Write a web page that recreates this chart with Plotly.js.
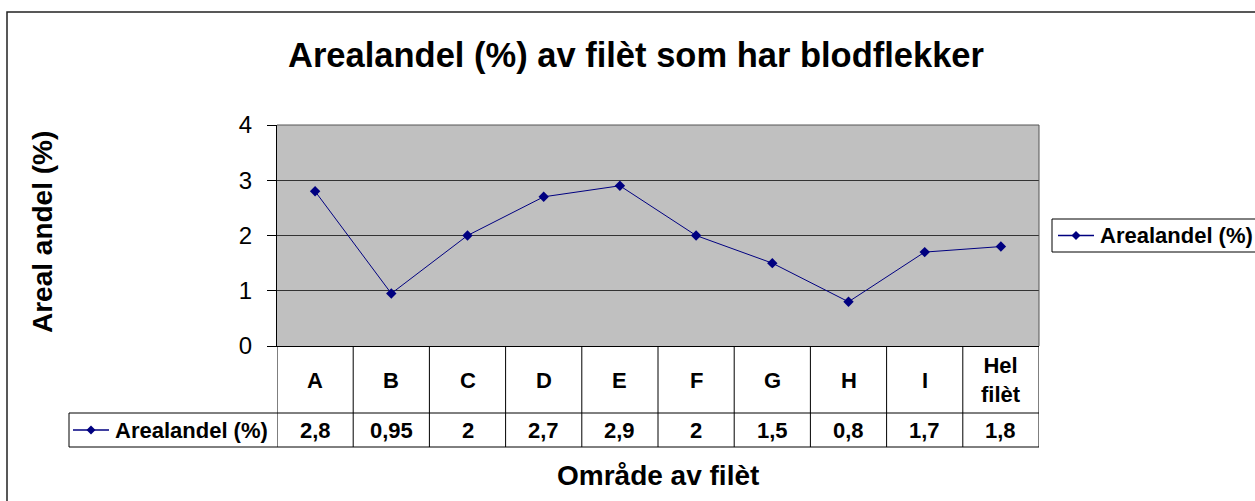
<!DOCTYPE html>
<html>
<head>
<meta charset="utf-8">
<script src="https://cdn.plot.ly/plotly-3.0.1.min.js"></script>
<style>html,body{margin:0;padding:0;background:#fff;}#chart{width:1255px;height:501px;}</style>
</head>
<body>
<div id="chart"></div>
<script>
const categories = ["A", "B", "C", "D", "E", "F", "G", "H", "I", "Hel filèt"];
const headerLabels = ["A", "B", "C", "D", "E", "F", "G", "H", "I", "Hel<br>filèt"];
const values = [2.8, 0.95, 2, 2.7, 2.9, 2, 1.5, 0.8, 1.7, 1.8];
const valueLabels = ["2,8", "0,95", "2", "2,7", "2,9", "2", "1,5", "0,8", "1,7", "1,8"];
const seriesName = "Arealandel (%)";
const yTicks = [0, 1, 2, 3, 4];

const W = 1255, H = 501;
const L = 277, R = 1039, T = 125, B = 346;
const px = x => (x - L) / (R - L);
const py = y => (B - y) / (B - T);
const FONT = "Liberation Sans, Arial, Helvetica, sans-serif";
const NAVY = "#000080";

const trace = {
  x: categories,
  y: values,
  type: "scatter",
  mode: "lines+markers",
  name: seriesName,
  line: {color: NAVY, width: 1},
  marker: {symbol: "diamond", size: 8, color: NAVY},
  showlegend: false,
  hoverinfo: "x+y"
};

const shapes = [];
const annotations = [];

// outer chart border
shapes.push({type: "rect", xref: "paper", yref: "paper", x0: px(7), x1: px(1300), y0: py(12), y1: py(540),
  line: {color: "#222", width: 1.5}, fillcolor: "rgba(0,0,0,0)", layer: "below"});

// data table grid
const n = categories.length;
for (let i = 0; i <= n; i++) {
  shapes.push({type: "line", xref: "x", yref: "paper", x0: i - 0.5, x1: i - 0.5, y0: py(346), y1: py(447),
    line: {color: "#000", width: 1}});
}
shapes.push({type: "line", xref: "paper", yref: "paper", x0: px(69), x1: 1, y0: py(413), y1: py(413), line: {color: "#000", width: 1}});
shapes.push({type: "line", xref: "paper", yref: "paper", x0: px(69), x1: 1, y0: py(447), y1: py(447), line: {color: "#000", width: 1}});
shapes.push({type: "line", xref: "paper", yref: "paper", x0: px(69), x1: px(69), y0: py(413), y1: py(447), line: {color: "#000", width: 1}});

// legend key (line with diamond)
function legendKey(xc, yc) {
  shapes.push({type: "line", xref: "paper", yref: "paper", x0: px(xc - 18), x1: px(xc + 18), y0: py(yc), y1: py(yc),
    line: {color: NAVY, width: 1.5}});
  const d = 4.5;
  const path = "M" + px(xc) + "," + py(yc - d) + " L" + px(xc + d) + "," + py(yc) + " L" + px(xc) + "," + py(yc + d) + " L" + px(xc - d) + "," + py(yc) + " Z";
  shapes.push({type: "path", xref: "paper", yref: "paper", path: path, fillcolor: NAVY, line: {color: NAVY, width: 0}});
}
legendKey(91, 430);

annotations.push({xref: "paper", yref: "paper", x: px(113), y: py(430), xanchor: "left", yanchor: "middle",
  text: "<b>" + seriesName + "</b>", showarrow: false, font: {family: FONT, size: 22, color: "#000"}});

for (let i = 0; i < n; i++) {
  annotations.push({xref: "x", yref: "paper", x: categories[i], y: py(380), xanchor: "center", yanchor: "middle",
    text: "<b>" + headerLabels[i] + "</b>", showarrow: false, font: {family: FONT, size: 22, color: "#000"}});
  annotations.push({xref: "x", yref: "paper", x: categories[i], y: py(430), xanchor: "center", yanchor: "middle",
    text: "<b>" + valueLabels[i] + "</b>", showarrow: false, font: {family: FONT, size: 22, color: "#000"}});
}

// legend box (right)
shapes.push({type: "rect", xref: "paper", yref: "paper", x0: px(1052), x1: px(1300), y0: py(219), y1: py(252),
  line: {color: "#000", width: 1}, fillcolor: "#fff"});
legendKey(1076, 235.5);
annotations.push({xref: "paper", yref: "paper", x: px(1098), y: py(235.5), xanchor: "left", yanchor: "middle",
  text: "<b>" + seriesName + "</b>", showarrow: false, font: {family: FONT, size: 22, color: "#000"}});

// axis titles
annotations.push({xref: "paper", yref: "paper", x: px(658), y: py(475), xanchor: "center", yanchor: "middle",
  text: "<b>Område av filèt</b>", showarrow: false, font: {family: FONT, size: 28, color: "#000"}});
annotations.push({xref: "paper", yref: "paper", x: px(42), y: py(232), xanchor: "center", yanchor: "middle",
  text: "<b>Areal andel (%)</b>", textangle: -90, showarrow: false, font: {family: FONT, size: 28, color: "#000"}});

// plot-area right/top border
shapes.push({type: "line", xref: "paper", yref: "paper", x0: 1, x1: 1, y0: 0, y1: 1, line: {color: "#555", width: 1}});
shapes.push({type: "line", xref: "paper", yref: "paper", x0: 0, x1: 1, y0: 1, y1: 1, line: {color: "#555", width: 1}});

const layout = {
  width: W, height: H,
  margin: {l: L, r: W - R, t: T, b: H - B, pad: 0},
  paper_bgcolor: "#fff",
  plot_bgcolor: "#C0C0C0",
  font: {family: FONT, color: "#000"},
  title: {text: "<b>Arealandel (%) av filèt som har blodflekker</b>", font: {family: FONT, size: 34.5, color: "#000"},
    x: 636 / W, xanchor: "center", y: 1 - 55 / H, yanchor: "middle", xref: "container", yref: "container"},
  showlegend: false,
  xaxis: {
    type: "category", categoryarray: categories, range: [-0.5, n - 0.5],
    showticklabels: false, ticks: "", showgrid: false, zeroline: false,
    showline: true, linecolor: "#000", linewidth: 1, mirror: false, fixedrange: true
  },
  yaxis: {
    range: [0, 4], tickvals: yTicks, ticktext: yTicks.map(String),
    ticks: "outside", ticklen: 9, tickcolor: "#000", tickwidth: 1,
    tickfont: {family: FONT, size: 24, color: "#000"}, ticklabelstandoff: 10,
    showgrid: true, gridcolor: "#333", gridwidth: 1, zeroline: false,
    showline: true, linecolor: "#000", linewidth: 1, fixedrange: true
  },
  shapes: shapes,
  annotations: annotations
};

Plotly.newPlot("chart", [trace], layout, {staticPlot: true, displayModeBar: false});
</script>
</body>
</html>
